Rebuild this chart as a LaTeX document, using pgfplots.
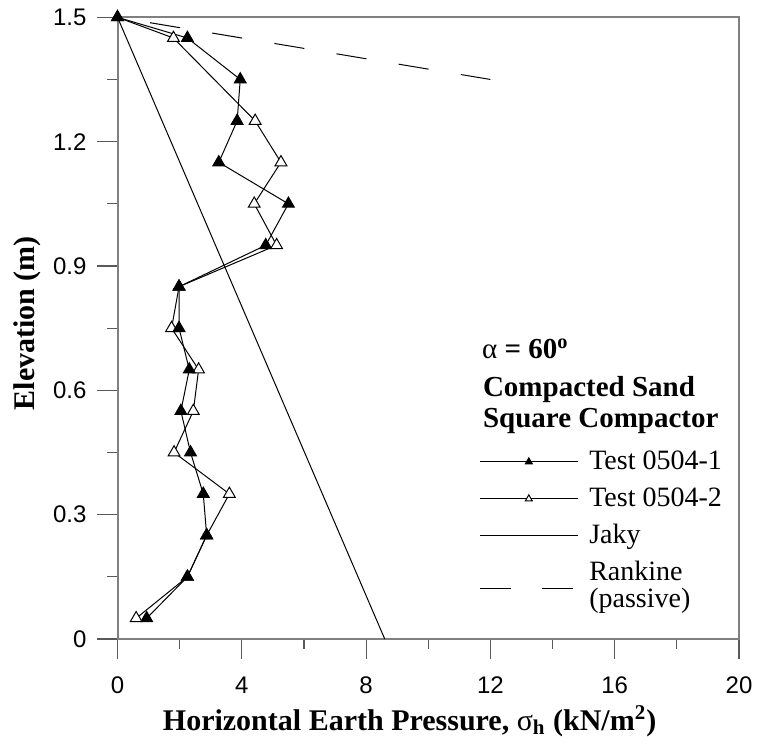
\documentclass[border=0pt]{standalone}
\usepackage{fontspec}
\setmainfont{Liberation Serif}
\newfontfamily\arial{Liberation Sans}
\usepackage{pgfplots}
\pgfplotsset{compat=1.18}
\usetikzlibrary{calc}
\begin{document}
\begin{tikzpicture}
\begin{axis}[name=ax,
  scale only axis, width=310.75pt, height=310.85pt,
  xmin=0, xmax=20, ymin=0, ymax=1.5,
  clip=false,
  xtick={0,4,8,12,16,20}, xticklabels={0,4,8,12,16,20},
  minor xtick={2,6,10,14,18},
  ytick={0,0.3,0.6,0.9,1.2,1.5}, yticklabels={0,0.3,0.6,0.9,1.2,1.5},
  minor ytick={0.15,0.45,0.75,1.05,1.35},
  tick align=outside, major tick length=10pt, minor tick length=5pt,
  xtick pos=bottom, ytick pos=left,
  axis line style={gray, line width=1pt},
  tick style={black!65, line width=0.6pt},
  ticklabel style={font=\arial\fontsize{12}{14}\selectfont},
  xticklabel style={yshift=-5.5pt},
  yticklabel style={xshift=-2pt},
  xlabel={\fontsize{15}{18}\selectfont\bfseries Horizontal Earth Pressure, {\mdseries σ}\textsubscript{h} (kN/m\textsuperscript{2})},
  xlabel style={at={(rel axis cs:0.47,0)}, anchor=base, yshift=-45.5pt, inner sep=0pt},
  ylabel={\fontsize{15}{18}\selectfont\bfseries Elevation (m)},
  ylabel style={at={($(rel axis cs:0,0.508)+(-41.25pt,0pt)$)}, anchor=base, inner sep=0pt},
  legend style={draw=none, fill=none, at={(axis cs:11.63,0.473)}, anchor=north west,
    inner sep=0pt, row sep=0pt, column sep=5.5pt,
    font=\fontsize{14}{13.5}\selectfont,
    nodes={inner sep=0pt, text height=13pt, text depth=5.5pt}},
  legend cell align=left,
  legend image code/.code={\draw[mark repeat=2,mark phase=2,#1] plot coordinates {(0pt,0pt)(24.5pt,0pt)(49pt,0pt)};},
]
% Test 0504-2 (open triangles)
\addplot[black, line width=0.5pt, mark=triangle*, mark size=3.4pt, mark options={fill=white, solid}, forget plot] coordinates {
(0,1.5) (1.8,1.45) (4.43,1.25) (5.26,1.15) (4.4,1.05) (5.12,0.95) (1.98,0.85) (1.74,0.75) (2.61,0.65) (2.44,0.55) (1.82,0.45) (3.6,0.35) (2.87,0.25) (2.25,0.15) (0.6,0.05)};
% Test 0504-1 (filled triangles)
\addplot[black, line width=0.5pt, mark=triangle*, mark size=3.4pt, mark options={fill=black, solid}, forget plot] coordinates {
(0,1.5) (2.25,1.45) (3.95,1.35) (3.85,1.25) (3.26,1.15) (5.5,1.05) (4.77,0.95) (1.98,0.85) (1.98,0.75) (2.31,0.65) (2.04,0.55) (2.35,0.45) (2.76,0.35) (2.87,0.25) (2.25,0.15) (0.94,0.05)};
% Jaky
\addplot[black, line width=0.5pt, forget plot] coordinates {(0,1.5) (8.6,0)};
% Rankine (passive)
\addplot[black, line width=0.5pt, dash pattern=on 15.2pt off 16.3pt, dash phase=15pt, forget plot] coordinates {(0,1.5) (12,1.35)};

\addlegendimage{black, line width=0.5pt, mark=triangle*, mark size=2pt, mark options={fill=black, solid}}
\addlegendentry{Test 0504-1}
\addlegendimage{black, line width=0.5pt, mark=triangle*, mark size=2pt, mark options={fill=white, solid}}
\addlegendentry{Test 0504-2}
\addlegendimage{black, line width=0.5pt}
\addlegendentry{Jaky}
\addlegendimage{legend image code/.code={\draw[black, line width=0.5pt, dash pattern=on 15.5pt off 15.5pt] (0pt,-8pt) -- (46.5pt,-8pt);}}
\addlegendentry{\begin{tabular}[t]{@{}l@{}}Rankine\\(passive)\end{tabular}}

\node[anchor=base west, inner sep=0pt, font=\fontsize{14.5}{17}\selectfont\bfseries] at (axis cs:11.72,0.6757) {{\mdseries α} = 60\textsuperscript{o}};
\node[anchor=base west, inner sep=0pt, font=\fontsize{14.5}{17}\selectfont\bfseries] at (axis cs:11.75,0.5862) {Compacted Sand};
\node[anchor=base west, inner sep=0pt, font=\fontsize{14.5}{17}\selectfont\bfseries] at (axis cs:11.75,0.5094) {Square Compactor};
\end{axis}
\pgfresetboundingbox
\path ([xshift=-58.75pt,yshift=-52pt]ax.south west) rectangle ([xshift=9.5pt,yshift=8.65pt]ax.north east);
\end{tikzpicture}
\end{document}
